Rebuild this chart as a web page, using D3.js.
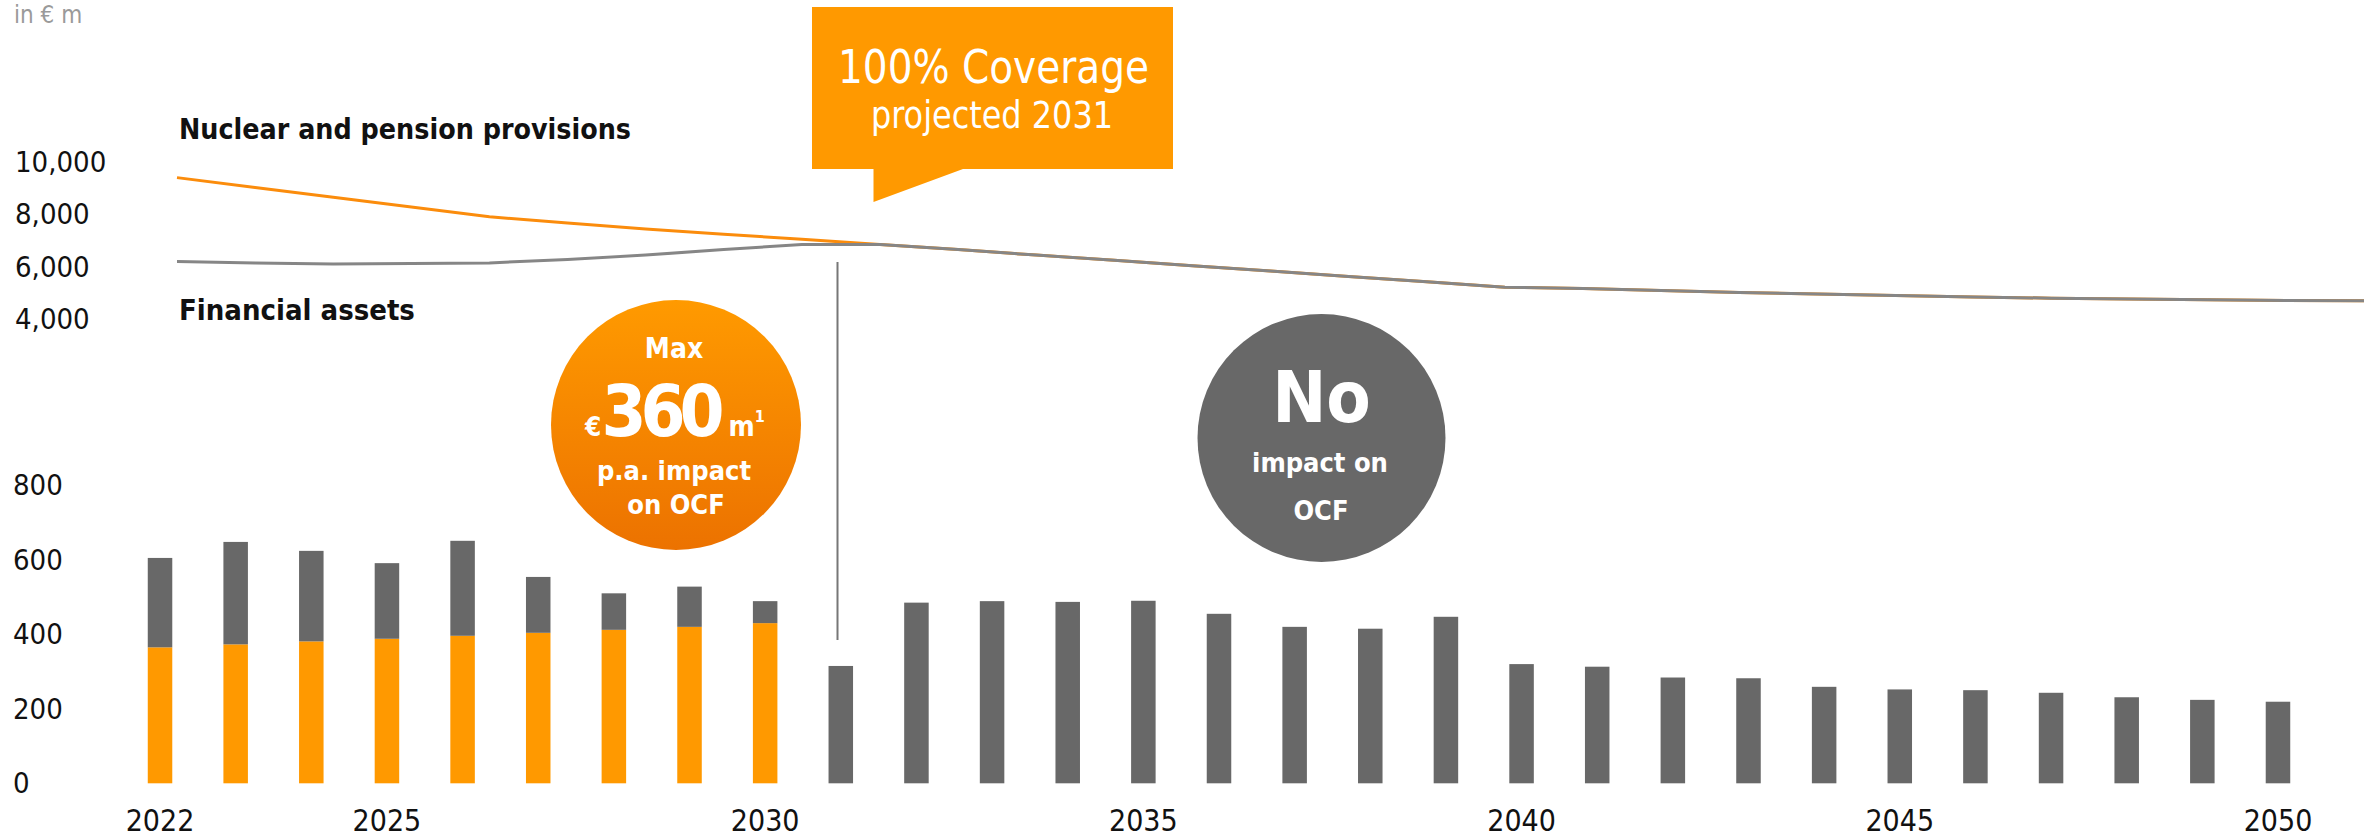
<!DOCTYPE html>
<html>
<head>
<meta charset="utf-8">
<script src="https://cdn.jsdelivr.net/npm/d3@7"></script>
<style>
  body { margin: 0; background: #fff; }
  svg text { font-family: "DejaVu Sans Condensed", "DejaVu Sans", sans-serif; }
</style>
</head>
<body>
<div id="chart"></div>
<script>
const width = 2379, height = 837;

const years = [2022, 2023, 2024, 2025, 2026, 2027, 2028, 2029, 2030, 2031, 2032, 2033, 2034, 2035,
    2036, 2037, 2038, 2039, 2040, 2041, 2042, 2043, 2044, 2045, 2046, 2047, 2048, 2049, 2050];

// bars, in € m
const ocfImpact = [365, 373, 381, 388, 396, 404, 412, 420, 430, 0, 0, 0, 0, 0,
    0, 0, 0, 0, 0, 0, 0, 0, 0, 0, 0, 0, 0, 0, 0];
const fromAssets = [240, 275, 243, 203, 255, 150, 98, 108, 59, 315, 485, 489, 487, 490,
    455, 420, 415, 447, 320, 313, 284, 282, 259, 252, 250, 243, 231, 224, 219];

// lines, in € m
const provisions = [9420, 9040, 8670, 8290, 7920, 7680, 7450, 7250, 7060, 6860, 6660, 6450, 6250, 6040,
    5840, 5630, 5430, 5220, 5170, 5090, 5020, 4960, 4900, 4840, 4800, 4770, 4740, 4710, 4700];
const assets = [6200, 6150, 6110, 6130, 6150, 6280, 6450, 6660, 6860, 6860, 6660, 6450, 6250, 6040,
    5840, 5630, 5430, 5220, 5170, 5090, 5020, 4960, 4900, 4840, 4800, 4770, 4740, 4710, 4700];

const barTicks = [0, 200, 400, 600, 800];
const lineTicks = [4000, 6000, 8000, 10000];
const yearTicks = [2022, 2025, 2030, 2035, 2040, 2045, 2050];

const orange = "#ff9900", grey = "#686868";

const svg = d3.select("#chart").append("svg")
    .attr("width", width)
    .attr("height", height);

const x = d3.scaleBand()
    .domain(years)
    .range([122.2, 2315.8])
    .paddingInner(0.676)
    .paddingOuter(0.338);

const yBar = d3.scaleLinear().domain([0, 800]).range([783.3, 485.3]);
const xLine = d3.scaleLinear().domain([2022, 2050]).range([177, 2364]);
const yLine = d3.scaleLinear().domain([4000, 10000]).range([319, 162.5]);

// unit
svg.append("text")
    .attr("x", 14).attr("y", 23)
    .attr("font-size", 24)
    .attr("fill", "#9a9a9a")
    .text("in € m");

// stacked bars
const table = years.map((yr, i) => ({ year: yr, impact: ocfImpact[i], assets: fromAssets[i] }));
const series = d3.stack().keys(["impact", "assets"])(table);

svg.append("g")
    .selectAll("g")
    .data(series)
    .enter().append("g")
    .attr("fill", d => d.key === "impact" ? orange : grey)
    .selectAll("rect")
    .data(d => d)
    .enter().append("rect")
    .attr("x", d => x(d.data.year))
    .attr("width", x.bandwidth())
    .attr("y", d => yBar(d[1]))
    .attr("height", d => yBar(d[0]) - yBar(d[1]));

// axes
const barAxis = svg.append("g")
    .attr("transform", "translate(13,0)")
    .call(d3.axisLeft(yBar).tickValues(barTicks).tickSize(0).tickPadding(0));

const lineAxis = svg.append("g")
    .attr("transform", "translate(15,0)")
    .call(d3.axisLeft(yLine).tickValues(lineTicks).tickSize(0).tickPadding(0).tickFormat(d3.format(",")));

const yearAxis = svg.append("g")
    .attr("transform", "translate(0,783)")
    .call(d3.axisBottom(x).tickValues(yearTicks).tickSize(0).tickPadding(27));

[barAxis, lineAxis, yearAxis].forEach(g => {
    g.select(".domain").remove();
    g.selectAll("text")
        .attr("font-family", null)
        .attr("font-size", 29)
        .attr("fill", "#111");
});
barAxis.selectAll("text").attr("text-anchor", "start");
lineAxis.selectAll("text").attr("text-anchor", "start");
yearAxis.selectAll("text").attr("font-size", 30);

// lines
const line = vals => d3.line()
    .x((d, i) => xLine(years[i]))
    .y(d => yLine(d))(vals);

svg.append("path")
    .attr("d", line(provisions))
    .attr("fill", "none")
    .attr("stroke", "#fb8c0c")
    .attr("stroke-width", 3);

svg.append("path")
    .attr("d", line(assets))
    .attr("fill", "none")
    .attr("stroke", "#868686")
    .attr("stroke-width", 3);

// series labels
svg.append("text")
    .attr("x", 179).attr("y", 139)
    .attr("font-size", 29).attr("font-weight", "bold")
    .attr("textLength", 452).attr("lengthAdjust", "spacingAndGlyphs")
    .attr("fill", "#111")
    .text("Nuclear and pension provisions");

svg.append("text")
    .attr("x", 179).attr("y", 320)
    .attr("font-size", 29).attr("font-weight", "bold")
    .attr("fill", "#111")
    .text("Financial assets");

// divider at 2031
svg.append("line")
    .attr("x1", 837.5).attr("x2", 837.5)
    .attr("y1", 262).attr("y2", 640)
    .attr("stroke", "#777")
    .attr("stroke-width", 2);

// callout
svg.append("path")
    .attr("d", "M812,7H1173V169H963L873.5,202V169H812Z")
    .attr("fill", orange);

svg.append("text")
    .attr("x", 838).attr("y", 83)
    .attr("font-size", 46)
    .attr("textLength", 311).attr("lengthAdjust", "spacingAndGlyphs")
    .attr("fill", "#fff")
    .text("100% Coverage");

svg.append("text")
    .attr("x", 871).attr("y", 128)
    .attr("font-size", 37)
    .attr("textLength", 242).attr("lengthAdjust", "spacingAndGlyphs")
    .attr("fill", "#fff")
    .text("projected 2031");

// orange bubble
const grad = svg.append("defs").append("linearGradient")
    .attr("id", "bubble")
    .attr("x1", 0).attr("x2", 0).attr("y1", 0).attr("y2", 1);
grad.append("stop").attr("offset", "0%").attr("stop-color", "#ff9a00");
grad.append("stop").attr("offset", "100%").attr("stop-color", "#ec7200");

svg.append("circle")
    .attr("cx", 676).attr("cy", 425).attr("r", 125)
    .attr("fill", "url(#bubble)");

const white = (xx, yy, size, txt) => svg.append("text")
    .attr("x", xx).attr("y", yy)
    .attr("text-anchor", "middle")
    .attr("font-size", size)
    .attr("font-weight", "bold")
    .attr("fill", "#fff")
    .text(txt);

white(674, 358, 28, "Max");
const big = white(675, 436, 72, null);
big.append("tspan").attr("font-size", 26).text("€");
big.append("tspan").attr("letter-spacing", -6).text("360");
big.append("tspan").attr("font-size", 28).attr("dx", 10).text("m");
big.append("tspan").attr("font-size", 16).attr("dy", -14).text("1");
white(674, 480, 27, "p.a. impact");
white(676, 514, 27, "on OCF");

// grey bubble
svg.append("circle")
    .attr("cx", 1321.5).attr("cy", 438).attr("r", 124)
    .attr("fill", grey);

white(1321.5, 422, 72, "No");
white(1320, 472, 27, "impact on");
white(1321, 520, 27, "OCF");
</script>
</body>
</html>
